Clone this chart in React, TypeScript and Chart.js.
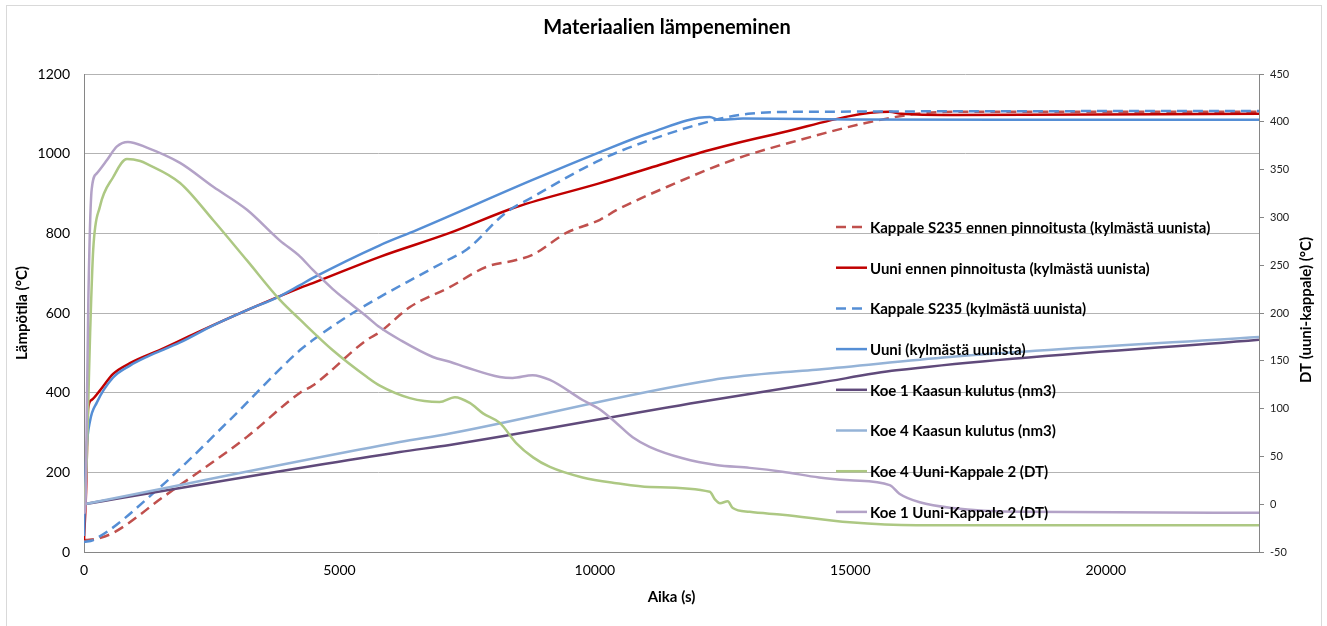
import { useEffect, useRef } from 'react';
import { Chart, registerables } from 'chart.js';

Chart.register(...registerables);

// ---------- DATA ----------
const chartTitle = 'Materiaalien lämpeneminen';
const xAxisTitle = 'Aika (s)';
const yAxisTitle = 'Lämpötila (°C)';
const y2AxisTitle = 'DT (uuni-kappale) (°C)';

const xTickValues = [0, 5000, 10000, 15000, 20000];

const seriesLabels = [
  'Kappale S235 ennen pinnoitusta (kylmästä uunista)',
  'Uuni ennen pinnoitusta (kylmästä uunista)',
  'Kappale S235 (kylmästä uunista)',
  'Uuni (kylmästä uunista)',
  'Koe 1 Kaasun kulutus (nm3)',
  'Koe 4 Kaasun kulutus (nm3)',
  'Koe 4 Uuni-Kappale 2 (DT)',
  'Koe 1 Uuni-Kappale 2 (DT)',
];

// Kappale S235 ennen pinnoitusta (kylmästä uunista) – left axis
const kappaleEnnenT = [0, 200, 570, 1550, 3190, 4230, 4480, 5530, 5790, 6380, 7160, 7880, 8460, 8780, 9440, 10100, 10420, 11400, 12700, 14000, 15300, 16300, 17000, 23000];
const kappaleEnnenV = [30, 32, 48, 138, 289, 400, 418, 532, 552, 615, 665, 716, 733, 746, 801, 834, 858, 916, 984, 1034, 1077, 1100, 1105, 1105];

// Uuni ennen pinnoitusta (kylmästä uunista) – left axis
const uuniEnnenT = [0, 40, 80, 150, 310, 570, 900, 1500, 2200, 3190, 4230, 4480, 5790, 7160, 8460, 10100, 11070, 12250, 13500, 15770, 16000, 17000, 23000];
const uuniEnnenV = [30, 150, 360, 382, 405, 447, 474, 508, 550, 607, 663, 675, 741, 801, 866, 926, 964, 1009, 1048, 1105, 1100, 1097, 1100];

// Kappale S235 (kylmästä uunista) – left axis
const kappaleT = [0, 180, 1430, 2850, 4230, 4480, 5200, 5790, 6500, 7150, 7500, 8250, 8780, 10100, 11070, 12370, 13000, 14000, 23000];
const kappaleV = [25, 30, 156, 331, 507, 532, 595, 640, 690, 735, 760, 851, 891, 984, 1034, 1085, 1100, 1105, 1107];

// Uuni (kylmästä uunista) – left axis
const uuniT = [0, 20, 50, 120, 250, 570, 900, 1230, 1880, 2530, 3190, 3830, 4230, 4480, 5790, 6510, 8780, 10100, 11070, 12250, 12420, 12900, 15000, 18000, 23000];
const uuniV = [40, 150, 256, 330, 375, 438, 468, 490, 526, 569, 607, 642, 670, 688, 770, 808, 934, 1004, 1052, 1092, 1085, 1088, 1086, 1085, 1085];

// Koe 1 Kaasun kulutus (nm3) – right axis
const koe1GasT = [0, 6180, 7160, 12050, 14390, 15900, 23000];
const koe1GasV = [0, 54.6, 62, 107, 127, 140, 172];

// Koe 4 Kaasun kulutus (nm3) – right axis
const koe4GasT = [0, 6180, 7160, 12300, 13670, 14390, 16940, 23000];
const koe4GasV = [0, 65, 74, 130, 138, 141, 154, 175];

// Koe 4 Uuni-Kappale 2 (DT) – right axis
const koe4DtT = [0, 30, 50, 90, 120, 180, 310, 570, 840, 1100, 1230, 1880, 2530, 3190, 3830, 4230, 4870, 5540, 5790, 6380, 6960, 7260, 7550, 7810, 8140, 8460, 8790, 9120, 9760, 10420, 11070, 12250, 12350, 12450, 12600, 12700, 13030, 13670, 14990, 16300, 23000];
const koe4DtV = [-5, 20, 39, 120, 179, 266, 311, 342, 361, 359, 356, 336, 297, 255, 214, 193, 161, 133, 124, 111, 107, 112, 106, 95, 85, 64, 49, 39, 28, 22, 18, 13, 5, 1, 3, -4, -8, -11, -19, -22, -22];

// Koe 1 Uuni-Kappale 2 (DT) – right axis
const koe1DtT = [0, 30, 50, 85, 150, 250, 450, 640, 860, 1230, 1880, 2530, 3190, 3830, 4230, 4480, 4870, 5140, 5540, 5790, 6180, 6830, 7160, 7490, 8140, 8390, 8780, 9120, 9760, 10100, 10420, 10740, 11070, 11720, 12370, 13030, 13670, 14390, 14990, 15770, 15960, 16360, 17000, 18310, 23000];
const koe1DtV = [-10, 0, 74, 213, 329, 346, 360, 374, 379, 373, 357, 332, 308, 276, 259, 245, 225, 213, 196, 185, 172, 154, 149, 143, 133, 132, 135, 130, 109, 99, 85, 70, 60, 48, 41, 38, 34, 28, 25, 20, 11, 2, -4, -8, -9];

// ---------- STYLE ----------
const FONT = 'Lato, "Open Sans", "DejaVu Sans", sans-serif';
const colors = ['#C0504D', '#C00000', '#558ED5', '#558ED5', '#604A7B', '#95B3D7', '#ADC883', '#B3A2C7'];
const dashed = [true, false, true, false, false, false, false, false];

const toXY = (t: number[], v: number[]) => t.map((x, i) => ({ x, y: v[i] }));

const decorPlugin = {
  id: 'decor',
  beforeDraw(chart: any) {
    const { ctx, width, height } = chart;
    ctx.save();
    ctx.fillStyle = '#ffffff';
    ctx.fillRect(0, 0, width, height);
    ctx.strokeStyle = '#d9d9d9';
    ctx.lineWidth = 1;
    ctx.strokeRect(6.5, 5.5, 1315, 700);
    ctx.restore();
  },
  afterDraw(chart: any) {
    const { ctx, chartArea: ca } = chart;
    ctx.save();
    ctx.fillStyle = '#000';
    ctx.textAlign = 'center';
    ctx.textBaseline = 'middle';
    // chart title
    ctx.font = `bold 20px ${FONT}`;
    ctx.fillText(chartTitle, 667, 28);
    // axis titles
    ctx.font = `bold 15px ${FONT}`;
    ctx.fillText(xAxisTitle, (ca.left + ca.right) / 2, 597);
    ctx.save();
    ctx.translate(22, (ca.top + ca.bottom) / 2);
    ctx.rotate(-Math.PI / 2);
    ctx.fillText(yAxisTitle, 0, 0);
    ctx.restore();
    ctx.save();
    ctx.translate(1306, (ca.top + ca.bottom) / 2 - 3);
    ctx.rotate(-Math.PI / 2);
    ctx.fillText(y2AxisTitle, 0, 0);
    ctx.restore();
    // legend
    const x0 = ca.left + 752;
    const y0 = ca.top + 153;
    const step = 40.7;
    ctx.textAlign = 'left';
    ctx.font = `bold 15px ${FONT}`;
    seriesLabels.forEach((label, i) => {
      const y = y0 + i * step;
      ctx.save();
      ctx.strokeStyle = colors[i];
      ctx.lineWidth = 2.5;
      ctx.setLineDash(dashed[i] ? [10, 6] : []);
      ctx.beginPath();
      ctx.moveTo(x0, y);
      ctx.lineTo(x0 + 31, y);
      ctx.stroke();
      ctx.restore();
      ctx.fillStyle = '#000';
      ctx.fillText(label, x0 + 34, y + 1);
    });
    ctx.restore();
  },
};

export default function App() {
  const canvasRef = useRef<HTMLCanvasElement | null>(null);

  useEffect(() => {
    document.body.style.margin = '0';
    document.body.style.overflow = 'hidden';
    const canvas = canvasRef.current;
    if (!canvas) return;

    const seriesData = [
      toXY(kappaleEnnenT, kappaleEnnenV),
      toXY(uuniEnnenT, uuniEnnenV),
      toXY(kappaleT, kappaleV),
      toXY(uuniT, uuniV),
      toXY(koe1GasT, koe1GasV),
      toXY(koe4GasT, koe4GasV),
      toXY(koe4DtT, koe4DtV),
      toXY(koe1DtT, koe1DtV),
    ];
    const axisOf = ['y', 'y', 'y', 'y', 'y2', 'y2', 'y2', 'y2'];

    const datasets = seriesData.map((data, i) => ({
      label: seriesLabels[i],
      data,
      yAxisID: axisOf[i],
      borderColor: colors[i],
      backgroundColor: colors[i],
      borderWidth: 2.5,
      borderDash: dashed[i] ? [10, 6] : [],
      pointRadius: 0,
      pointHoverRadius: 0,
      fill: false,
      cubicInterpolationMode: 'monotone' as const,
      order: 8 - i,
    }));

    const tickFont = { family: FONT, size: 14 };

    const chart = new Chart(canvas, {
      type: 'line',
      data: { datasets },
      plugins: [decorPlugin],
      options: {
        responsive: false,
        animation: false,
        parsing: true,
        layout: { padding: { left: 0, right: 0, top: 74, bottom: 0 } },
        plugins: {
          legend: { display: false },
          title: { display: false },
          tooltip: { enabled: false },
        },
        scales: {
          x: {
            type: 'linear',
            min: 0,
            max: 23000,
            afterBuildTicks: (s: any) => {
              s.ticks = xTickValues.map((v) => ({ value: v }));
            },
            afterFit: (s: any) => {
              s.height = 74;
            },
            grid: { display: false, drawTicks: false },
            border: { display: true, color: '#868686', width: 1 },
            ticks: {
              padding: 10,
              font: tickFont,
              color: '#000',
              maxRotation: 0,
              autoSkip: false,
              callback: (v: any) => String(v),
            },
          },
          y: {
            type: 'linear',
            position: 'left',
            min: 0,
            max: 1200,
            afterFit: (s: any) => {
              s.width = 84;
            },
            grid: { color: '#b3b3b3', drawTicks: false, lineWidth: 1 },
            border: { display: true, color: '#868686', width: 1 },
            ticks: {
              stepSize: 200,
              padding: 14,
              font: tickFont,
              color: '#000',
              callback: (v: any) => String(v),
            },
          },
          y2: {
            type: 'linear',
            position: 'right',
            min: -50,
            max: 450,
            afterFit: (s: any) => {
              s.width = 68;
            },
            grid: { drawOnChartArea: false, drawTicks: true, tickLength: 5, color: '#868686' },
            border: { display: true, color: '#868686', width: 1 },
            ticks: {
              stepSize: 50,
              padding: 6,
              font: { family: FONT, size: 11 },
              color: '#222',
              callback: (v: any) => String(v),
            },
          },
        },
      },
    });

    return () => chart.destroy();
  }, []);

  return (
    <div style={{ width: 1327, height: 626, position: 'relative' }}>
      <canvas ref={canvasRef} width={1327} height={626} style={{ display: 'block' }} />
    </div>
  );
}
